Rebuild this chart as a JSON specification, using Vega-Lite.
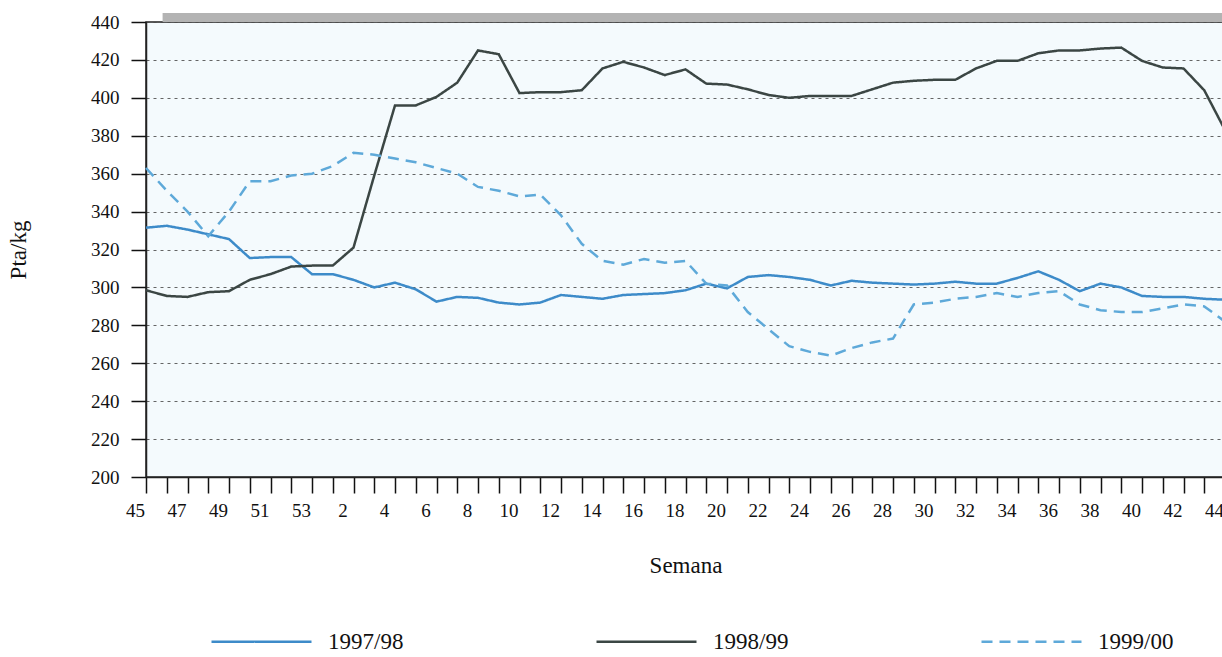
{
  "$schema": "https://vega.github.io/schema/vega-lite/v6.json",
  "width": 1079,
  "height": 455,
  "autosize": {"type": "none"},
  "padding": {"left": 146, "top": 22, "right": 0, "bottom": 180},
  "background": "white",
  "config": {
    "font": "Liberation Serif",
    "view": {"fill": "#f4fafd", "stroke": "#222222", "strokeWidth": 1.5},
    "axis": {
      "labelFont": "Liberation Serif",
      "titleFont": "Liberation Serif",
      "labelColor": "#111111",
      "titleColor": "#111111",
      "domainColor": "#222222",
      "titleFontWeight": "normal",
      "domainWidth": 1.5
    },
    "legend": {"labelFont": "Liberation Serif"}
  },
  "resolve": {"axis": {"x": "independent", "y": "independent"}},
  "layer": [
    {
      "data": {"values": [{}]},
      "mark": {"type": "rule", "color": "#b3b3b3", "strokeWidth": 9, "yOffset": -4.5},
      "encoding": {
        "x": {"datum": 0.8, "type": "quantitative", "axis": null},
        "x2": {"datum": 52},
        "y": {"datum": 440, "type": "quantitative", "axis": null}
      }
    },
    {
      "data": {
        "values": [
          {"i": 0, "semana": 45, "1997/98": 331.5, "1998/99": 298.5, "1999/00": 363},
          {"i": 1, "semana": 46, "1997/98": 332.5, "1998/99": 295.5, "1999/00": 351},
          {"i": 2, "semana": 47, "1997/98": 330.5, "1998/99": 295, "1999/00": 340},
          {"i": 3, "semana": 48, "1997/98": 328, "1998/99": 297.5, "1999/00": 327},
          {"i": 4, "semana": 49, "1997/98": 325.5, "1998/99": 298, "1999/00": 340},
          {"i": 5, "semana": 50, "1997/98": 315.5, "1998/99": 304, "1999/00": 356},
          {"i": 6, "semana": 51, "1997/98": 316, "1998/99": 307, "1999/00": 356},
          {"i": 7, "semana": 52, "1997/98": 316, "1998/99": 311, "1999/00": 359},
          {"i": 8, "semana": 53, "1997/98": 307, "1998/99": 311.5, "1999/00": 360},
          {"i": 9, "semana": 1, "1997/98": 307, "1998/99": 311.5, "1999/00": 364},
          {"i": 10, "semana": 2, "1997/98": 304, "1998/99": 321, "1999/00": 371},
          {"i": 11, "semana": 3, "1997/98": 300, "1998/99": 359, "1999/00": 370},
          {"i": 12, "semana": 4, "1997/98": 302.5, "1998/99": 396, "1999/00": 368},
          {"i": 13, "semana": 5, "1997/98": 299, "1998/99": 396, "1999/00": 366},
          {"i": 14, "semana": 6, "1997/98": 292.5, "1998/99": 400.5, "1999/00": 363},
          {"i": 15, "semana": 7, "1997/98": 295, "1998/99": 408, "1999/00": 360},
          {"i": 16, "semana": 8, "1997/98": 294.5, "1998/99": 425, "1999/00": 353},
          {"i": 17, "semana": 9, "1997/98": 292, "1998/99": 423, "1999/00": 351},
          {"i": 18, "semana": 10, "1997/98": 291, "1998/99": 402.5, "1999/00": 348},
          {"i": 19, "semana": 11, "1997/98": 292, "1998/99": 403, "1999/00": 349},
          {"i": 20, "semana": 12, "1997/98": 296, "1998/99": 403, "1999/00": 338},
          {"i": 21, "semana": 13, "1997/98": 295, "1998/99": 404, "1999/00": 323},
          {"i": 22, "semana": 14, "1997/98": 294, "1998/99": 415.5, "1999/00": 314},
          {"i": 23, "semana": 15, "1997/98": 296, "1998/99": 419, "1999/00": 312},
          {"i": 24, "semana": 16, "1997/98": 296.5, "1998/99": 416, "1999/00": 315},
          {"i": 25, "semana": 17, "1997/98": 297, "1998/99": 412, "1999/00": 313},
          {"i": 26, "semana": 18, "1997/98": 298.5, "1998/99": 415, "1999/00": 314},
          {"i": 27, "semana": 19, "1997/98": 302, "1998/99": 407.5, "1999/00": 302},
          {"i": 28, "semana": 20, "1997/98": 299.5, "1998/99": 407, "1999/00": 301},
          {"i": 29, "semana": 21, "1997/98": 305.5, "1998/99": 404.5, "1999/00": 287},
          {"i": 30, "semana": 22, "1997/98": 306.5, "1998/99": 401.5, "1999/00": 278},
          {"i": 31, "semana": 23, "1997/98": 305.5, "1998/99": 400, "1999/00": 269},
          {"i": 32, "semana": 24, "1997/98": 304, "1998/99": 401, "1999/00": 266},
          {"i": 33, "semana": 25, "1997/98": 301, "1998/99": 401, "1999/00": 264},
          {"i": 34, "semana": 26, "1997/98": 303.5, "1998/99": 401, "1999/00": 268},
          {"i": 35, "semana": 27, "1997/98": 302.5, "1998/99": 404.5, "1999/00": 271},
          {"i": 36, "semana": 28, "1997/98": 302, "1998/99": 408, "1999/00": 273},
          {"i": 37, "semana": 29, "1997/98": 301.5, "1998/99": 409, "1999/00": 291},
          {"i": 38, "semana": 30, "1997/98": 302, "1998/99": 409.5, "1999/00": 292},
          {"i": 39, "semana": 31, "1997/98": 303, "1998/99": 409.5, "1999/00": 294},
          {"i": 40, "semana": 32, "1997/98": 302, "1998/99": 415.5, "1999/00": 295},
          {"i": 41, "semana": 33, "1997/98": 302, "1998/99": 419.5, "1999/00": 297},
          {"i": 42, "semana": 34, "1997/98": 305, "1998/99": 419.5, "1999/00": 295},
          {"i": 43, "semana": 35, "1997/98": 308.5, "1998/99": 423.5, "1999/00": 297},
          {"i": 44, "semana": 36, "1997/98": 304, "1998/99": 425, "1999/00": 298},
          {"i": 45, "semana": 37, "1997/98": 298, "1998/99": 425, "1999/00": 291},
          {"i": 46, "semana": 38, "1997/98": 302, "1998/99": 426, "1999/00": 288},
          {"i": 47, "semana": 39, "1997/98": 300, "1998/99": 426.5, "1999/00": 287},
          {"i": 48, "semana": 40, "1997/98": 295.5, "1998/99": 419.5, "1999/00": 287},
          {"i": 49, "semana": 41, "1997/98": 295, "1998/99": 416, "1999/00": 289},
          {"i": 50, "semana": 42, "1997/98": 295, "1998/99": 415.5, "1999/00": 291},
          {"i": 51, "semana": 43, "1997/98": 294, "1998/99": 404, "1999/00": 290},
          {"i": 52, "semana": 44, "1997/98": 293.5, "1998/99": 383, "1999/00": 282}
        ]
      },
      "transform": [{"fold": ["1997/98", "1998/99", "1999/00"], "as": ["serie", "precio"]}],
      "mark": {"type": "line", "strokeWidth": 2.5},
      "encoding": {
        "x": {
          "field": "i",
          "type": "quantitative",
          "scale": {"domain": [0, 52], "nice": false, "zero": false},
          "axis": {
            "values": [0,1,2,3,4,5,6,7,8,9,10,11,12,13,14,15,16,17,18,19,20,21,22,23,24,25,26,27,28,29,30,31,32,33,34,35,36,37,38,39,40,41,42,43,44,45,46,47,48,49,50,51,52],
            "labelExpr": "datum.value % 2 == 0 ? (datum.value < 9 ? '' + (datum.value + 45) : '' + (datum.value - 8)) : ''",
            "title": "Semana",
            "ticks": true,
            "tickColor": "#111111",
            "tickWidth": 1.5,
            "tickOpacity": 1,
            "tickSize": 16,
            "labelFontSize": 19,
            "titleFontSize": 23,
            "labelPadding": 8,
            "titlePadding": 34,
            "labelOffset": -11,
            "grid": false,
            "labelOverlap": false,
            "labelFlush": false
          }
        },
        "y": {
          "field": "precio",
          "type": "quantitative",
          "scale": {"domain": [200, 440], "nice": false, "zero": false},
          "axis": {
            "values": [200, 220, 240, 260, 280, 300, 320, 340, 360, 380, 400, 420, 440],
            "title": "Pta/kg",
            "grid": true,
            "gridDash": [3, 4],
            "gridColor": "#4a4a4a",
            "gridWidth": 1,
            "gridOpacity": 0.85,
            "ticks": true,
            "tickColor": "#111111",
            "tickWidth": 1.5,
            "tickOpacity": 1,
            "tickSize": 15,
            "labelPadding": 12,
            "labelFontSize": 19,
            "titleFontSize": 23,
            "titlePadding": 60,
            "labelOverlap": false
          }
        },
        "color": {
          "field": "serie",
          "type": "nominal",
          "scale": {"domain": ["1997/98", "1998/99", "1999/00"], "range": ["#3d8bc9", "#3b4644", "#5ea9d9"]},
          "legend": {
            "title": null,
            "orient": "none",
            "legendX": 64,
            "legendY": 568,
            "direction": "horizontal",
            "columns": 3,
            "symbolType": "stroke",
            "symbolSize": 10000,
            "symbolStrokeWidth": 2.5,
            "labelFontSize": 23,
            "labelOffset": 15,
            "labelColor": "#111111",
            "columnPadding": 187,
            "padding": 0
          }
        },
        "strokeDash": {
          "field": "serie",
          "type": "nominal",
          "scale": {"domain": ["1997/98", "1998/99", "1999/00"], "range": [[1, 0], [1, 0], [11, 7]]},
          "legend": {
            "title": null,
            "orient": "none",
            "legendX": 64,
            "legendY": 568,
            "direction": "horizontal",
            "columns": 3,
            "symbolType": "stroke",
            "symbolSize": 10000,
            "symbolStrokeWidth": 2.5,
            "labelFontSize": 23,
            "labelOffset": 15,
            "labelColor": "#111111",
            "columnPadding": 187,
            "padding": 0
          }
        }
      }
    }
  ]
}
